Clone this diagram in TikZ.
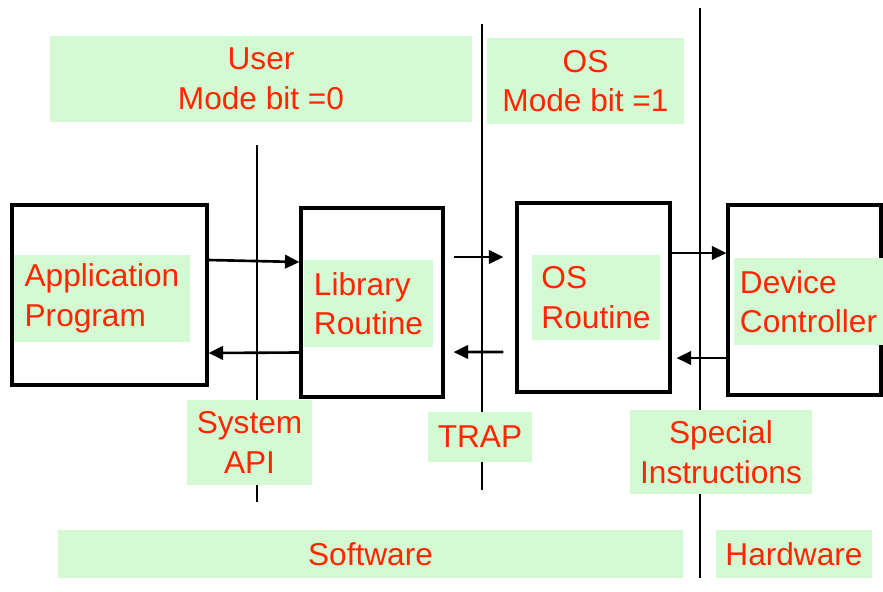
\documentclass[tikz,border=0pt]{standalone}
\usepackage{fontspec}
\setmainfont{Liberation Sans}
\usetikzlibrary{arrows.meta}
\definecolor{labelred}{RGB}{255,38,0}
\definecolor{labelgreen}{RGB}{212,250,212}
\begin{document}
\begin{tikzpicture}[
    box/.style={draw,line width=1.8pt,inner sep=0pt},
    tag/.style={fill=labelgreen,text=labelred,inner sep=0pt,align=#1,
                font=\fontsize{18}{22.5}\selectfont},
    tag/.default=center,
    wall/.style={line width=1.5pt},
    flow/.style={line width=1.5pt,-{Triangle[length=0.29cm,width=0.27cm]}}
]
            \useasboundingbox (0,0) rectangle (17.66,-11.82);
            % layer boundaries
            \draw[wall] (5.14,-2.9) -- (5.14,-10.04);
            \draw[wall] (9.64,-0.48) -- (9.64,-9.8);
            \draw[wall] (14.0,-0.16) -- (14.0,-11.56);
            % the four stages
            \node[box,minimum width=3.9cm,minimum height=3.6cm] (app) at (2.19,-5.9) {};
            \node[box,minimum width=2.84cm,minimum height=3.78cm] (lib) at (7.44,-6.05) {};
            \node[box,minimum width=3.06cm,minimum height=3.78cm] (os) at (11.87,-5.95) {};
            \node[box,minimum width=3.06cm,minimum height=3.8cm] (dev) at (16.09,-6.0) {};
            \node[tag=left,minimum width=3.52cm,minimum height=1.74cm] (appL) at (2.04,-5.97) {Application\\Program};
            \node[tag=left,minimum width=2.58cm,minimum height=1.74cm] (libL) at (7.37,-6.07) {Library\\Routine};
            \node[tag=left,minimum width=2.56cm,minimum height=1.7cm] (osL) at (11.92,-5.95) {OS\\Routine};
            \node[tag=left,minimum width=2.98cm,minimum height=1.74cm] (devL) at (16.17,-6.03) {Device\\Controller};
            % modes
            \node[tag,minimum width=8.44cm,minimum height=1.72cm] (user) at (5.22,-1.58) {User\\Mode bit =0};
            \node[tag,minimum width=3.94cm,minimum height=1.72cm] (osmode) at (11.71,-1.62) {OS\\Mode bit =1};
            % interfaces
            \node[tag,minimum width=2.5cm,minimum height=1.7cm] (api) at (4.99,-8.85) {System\\API};
            \node[tag,minimum width=2.08cm,minimum height=1.0cm] (trap) at (9.6,-8.74) {TRAP};
            \node[tag,minimum width=3.64cm,minimum height=1.68cm] (special) at (14.42,-9.04) {Special\\Instructions};
            \node[tag,minimum width=12.5cm,minimum height=0.96cm] (soft) at (7.41,-11.08) {Software};
            \node[tag,minimum width=3.12cm,minimum height=0.96cm] (hard) at (15.88,-11.08) {Hardware};
            % calls and returns
            \draw[flow] ([yshift=0.7cm]app.east) -- ([yshift=0.81cm]lib.west);
            \draw[flow] ([yshift=-1.0cm]lib.west) -- ([yshift=-1.16cm]app.east);
            \draw[flow,shorten <=0.18cm,shorten >=0.24cm] ([yshift=0.91cm]lib.east) -- ([yshift=0.81cm]os.west);
            \draw[flow,shorten <=0.24cm,shorten >=0.18cm] ([yshift=-1.09cm]os.west) -- ([yshift=-0.99cm]lib.east);
            \draw[flow] ([yshift=0.89cm]os.east) -- ([yshift=0.94cm]dev.west);
            \draw[flow,shorten >=0.1cm] ([yshift=-1.16cm]dev.west) -- ([yshift=-1.21cm]os.east);
        \end{tikzpicture}
\end{document}
